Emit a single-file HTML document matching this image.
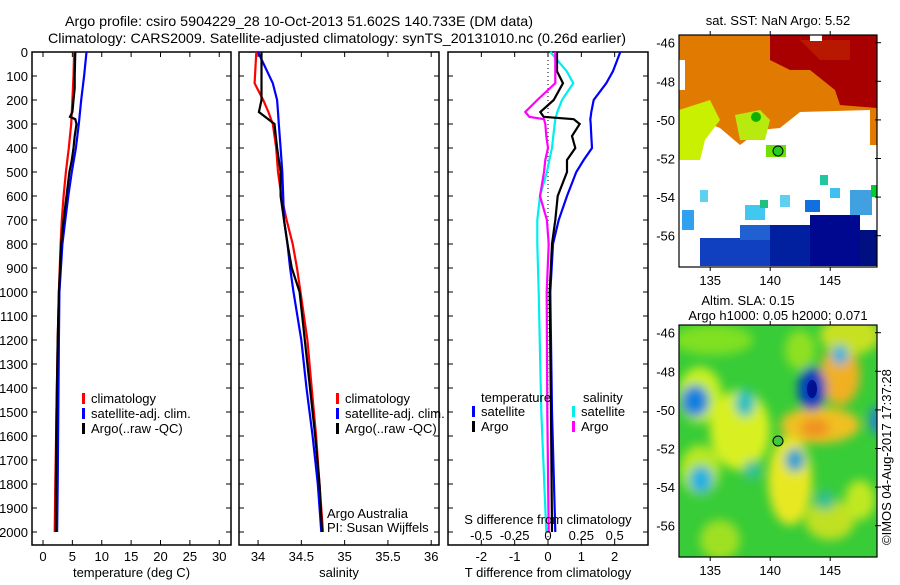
<!DOCTYPE html>
<html><head><meta charset="utf-8"><style>
body{margin:0;background:#fff;width:900px;height:580px;overflow:hidden}
svg{font-family:"Liberation Sans",sans-serif}
</style></head><body>
<svg id="c" width="900" height="580" xmlns="http://www.w3.org/2000/svg">
<text x="65" y="26" font-size="14" textLength="468" lengthAdjust="spacingAndGlyphs">Argo profile: csiro 5904229_28 10-Oct-2013 51.602S 140.733E (DM data)</text>
<text x="48" y="43" font-size="14" textLength="578" lengthAdjust="spacingAndGlyphs">Climatology: CARS2009. Satellite-adjusted climatology: synTS_20131010.nc (0.26d earlier)</text>
<g id="maps"></g>
<text transform="translate(891,545) rotate(-90)" font-size="13">©IMOS 04-Aug-2017 17:37:28</text>
</svg>
<script>
// ---- data ----
const depthTicks=[0,100,200,300,400,500,600,700,800,900,1000,1100,1200,1300,1400,1500,1600,1700,1800,1900,2000];
const tTicks=[0,5,10,15,20,25,30];
const sTicks=[34,34.5,35,35.5,36];
const dTTicks=[-2,-1,0,1,2];
const dSTicks=[-0.5,-0.25,0,0.25,0.5];
const tDepth=[0,100,200,300,400,500,600,700,800,1000,1200,1500,1800,2000];
const tClim=[5.3,5.2,5.0,4.8,4.4,3.9,3.5,3.2,3.0,2.7,2.5,2.3,2.1,2.0];
const tSat=[7.4,7.0,6.5,6.1,5.6,4.9,4.3,3.8,3.3,2.8,2.7,2.6,2.5,2.4];
const aDepth=[0,100,150,200,250,270,280,300,350,400,450,500,600,700,800,1000,1200,1500,1800,2000];
const tArgo=[5.5,5.4,5.4,5.2,5.0,4.6,5.5,5.7,5.4,5.2,4.9,4.5,4.0,3.5,3.1,2.7,2.5,2.3,2.2,2.2];
const sDepth=[0,130,200,250,300,400,500,600,700,800,900,1000,1200,1400,1600,1800,2000];
const sClim=[33.98,33.96,34.06,34.12,34.17,34.21,34.23,34.27,34.33,34.40,34.45,34.49,34.57,34.62,34.67,34.71,34.75];
const sSat=[34.0,34.17,34.22,34.23,34.24,34.26,34.28,34.29,34.30,34.34,34.37,34.41,34.50,34.56,34.63,34.69,34.73];
const sArgo=[34.04,34.04,34.04,34.01,34.19,34.22,34.26,34.26,34.30,34.34,34.39,34.48,34.54,34.60,34.66,34.71,34.74];
const dDepth=[0,80,130,200,250,270,280,300,350,400,450,500,600,700,800,1000,1500,2000];
const dTSat=[2.17,1.95,1.75,1.37,1.3,1.28,1.27,1.28,1.3,1.32,1.07,0.85,0.57,0.32,0.15,0.07,0.12,0.22];
const dTArgo=[0.27,0.27,0.45,0.17,-0.23,-0.13,0.77,0.95,0.72,0.82,0.57,0.57,0.29,0.22,0.12,0.05,0.09,0.12];
const dSSat=[0.018,0.14,0.19,0.105,0.07,0.06,0.055,0.05,0.04,0.03,0.01,-0.008,-0.06,-0.08,-0.08,-0.07,-0.05,-0.013];
const dSArgo=[0.055,0.055,0.055,-0.08,-0.17,-0.14,-0.03,-0.02,-0.013,0,-0.02,-0.03,-0.06,-0.008,0.005,-0.01,-0.005,0.005];

const NS='http://www.w3.org/2000/svg';
const svg=document.getElementById('c');
function el(t,a,p){const e=document.createElementNS(NS,t);for(const k in a)e.setAttribute(k,a[k]);(p||svg).appendChild(e);return e;}
const Y0=52,Y1=545;
const yD=d=>Y0+d*0.24;
function panel(name,x0,x1,dmin,dmax,ticks,label){
  const g=el('g',{});
  
  
  el('rect',{x:x0,y:Y0,width:x1-x0,height:Y1-Y0,fill:'none',stroke:'#000','stroke-width':1.5},g);
  const sx=v=>x0+(v-dmin)/(dmax-dmin)*(x1-x0);
  depthTicks.forEach(d=>{const y=yD(d);
    el('line',{x1:x0,x2:x0+5,y1:y,y2:y,stroke:'#000'},g);
    el('line',{x1:x1-5,x2:x1,y1:y,y2:y,stroke:'#000'},g);});
  if(ticks){ticks.forEach(v=>{const x=sx(v);
    el('line',{x1:x,x2:x,y1:Y0,y2:Y0+5,stroke:'#000'},g);
    el('line',{x1:x,x2:x,y1:Y1-5,y2:Y1,stroke:'#000'},g);
    const t=el('text',{x:x,y:561,'font-size':13,'text-anchor':'middle'},g);t.textContent=v;});
    const l=el('text',{x:(x0+x1)/2,y:577,'font-size':13,'text-anchor':'middle'},g);l.textContent=label;}
  return {g,sx};
}
function line(p,name,xs,ds,col,sx){
  const pts=xs.map((v,i)=>sx(v).toFixed(1)+','+yD(ds[i]).toFixed(1)).join(' ');
  const e=el('polyline',{points:pts,fill:'none',stroke:col,'stroke-width':2.2},p.g);
  
  
}
function legend(g,x,y,items){items.forEach((it,i)=>{
  el('rect',{x:x,y:y+i*15-10,width:3,height:11,fill:it[1]},g);
  const t=el('text',{x:x+9,y:y+i*15,'font-size':13},g);t.textContent=it[0];
  });}
depthTicks.forEach(d=>{const t=el('text',{x:28,y:yD(d)+5,'font-size':13,'text-anchor':'end'});t.textContent=d;
 });
const p1=panel('temperature-panel',32,231,-1.87,32,tTicks,'temperature (deg C)');
line(p1,'temp-climatology',tClim,tDepth,'#f00',p1.sx);
line(p1,'temp-satellite',tSat,tDepth,'#00f',p1.sx);
line(p1,'temp-argo',tArgo,aDepth,'#000',p1.sx);
legend(p1.g,82,403,[['climatology','#f00'],['satellite-adj. clim.','#00f'],['Argo(..raw -QC)','#000']]);
const p2=panel('salinity-panel',239,439,33.78,36.09,sTicks,'salinity');
line(p2,'sal-climatology',sClim,sDepth,'#f00',p2.sx);
line(p2,'sal-satellite',sSat,sDepth,'#00f',p2.sx);
line(p2,'sal-argo',sArgo,sDepth,'#000',p2.sx);
legend(p2.g,336,403,[['climatology','#f00'],['satellite-adj. clim.','#00f'],['Argo(..raw -QC)','#000']]);
let t=el('text',{x:327,y:518,'font-size':13},p2.g);t.textContent='Argo Australia';
t=el('text',{x:327,y:532,'font-size':13},p2.g);t.textContent='PI: Susan Wijffels';
const p3=panel('difference-panel',448,648,-3,3,dTTicks,'T difference from climatology');
const sxS=v=>p3.sx(v*4);
el('line',{x1:p3.sx(0),x2:p3.sx(0),y1:Y0,y2:Y1,stroke:'#000','stroke-dasharray':'1,3'},p3.g);
line(p3,'dT-satellite',dTSat,dDepth,'#00f',p3.sx);
line(p3,'dS-satellite',dSSat,dDepth,'#0ee',sxS);
line(p3,'dT-argo',dTArgo,dDepth,'#000',p3.sx);
line(p3,'dS-argo',dSArgo,dDepth,'#f0f',sxS);
dSTicks.forEach(v=>{const tt=el('text',{x:sxS(v),y:540,'font-size':13,'text-anchor':'middle'},p3.g);tt.textContent=v;});
t=el('text',{x:548,y:524,'font-size':13,'text-anchor':'middle'},p3.g);t.textContent='S difference from climatology';
t=el('text',{x:481,y:402,'font-size':13},p3.g);t.textContent='temperature';
t=el('text',{x:583,y:402,'font-size':13},p3.g);t.textContent='salinity';
legend(p3.g,472,416,[['satellite','#00f'],['Argo','#000']]);
legend(p3.g,572,416,[['satellite','#0ee'],['Argo','#f0f']]);

// ---- maps ----
const M=document.getElementById('maps');
function mapFrame(name){
  const g=el('g',{},M);
  return g;}
function axes(g,y0,y1){
  el('rect',{x:679,y:y0,width:198,height:y1-y0,fill:'none',stroke:'#000','stroke-width':1.2},g);
  [135,140,145].forEach(l=>{const x=679+(l-132.4)*12;
    el('line',{x1:x,x2:x,y1:y0-4,y2:y0,stroke:'#000'},g);el('line',{x1:x,x2:x,y1:y1,y2:y1+4,stroke:'#000'},g);
    const tt=el('text',{x:x,y:y1+18,'font-size':13,'text-anchor':'middle'},g);tt.textContent=l;});
  [-46,-48,-50,-52,-54,-56].forEach((la,i)=>{const y=y0+7.7+i*38.6;
    el('line',{x1:875,x2:881,y1:y,y2:y,stroke:'#000'},g);
    const tt=el('text',{x:675,y:y+5,'font-size':13,'text-anchor':'end'},g);tt.textContent=la;});
}
const g1=mapFrame('sst-map');
let tt=el('text',{x:778,y:25,'font-size':13,'text-anchor':'middle'},g1);tt.textContent='sat. SST: NaN Argo: 5.52';
el('polygon',{points:'679,35 877,35 877,145 870,145 870,110 800,112 780,128 760,130 740,145 720,128 700,120 685,110 679,110',fill:'#e07a00'},g1);
el('polygon',{points:'770,35 877,35 877,108 840,105 835,90 810,70 790,70 770,60',fill:'#a80000'},g1);
el('polygon',{points:'800,40 850,40 850,60 820,60',fill:'#b81800'},g1);
el('polygon',{points:'679,110 710,100 720,120 705,140 700,160 679,160',fill:'#c8f000'},g1);
el('polygon',{points:'735,115 760,110 770,120 765,140 740,140',fill:'#b8ea10'},g1);
el('circle',{cx:756,cy:117,r:5,fill:'#10b000'},g1);
el('rect',{x:766,y:145,width:20,height:12,fill:'#70e000'},g1);
el('rect',{x:810,y:35,width:12,height:6,fill:'#fff'},g1);
el('rect',{x:679,y:60,width:6,height:30,fill:'#fff'},g1);
[[682,210,12,20,'#30a0f0'],[700,190,8,12,'#60d0f0'],[745,205,20,15,'#40c8f0'],[760,200,8,8,'#20c080'],[780,195,10,12,'#60d0f0'],
 [805,200,15,12,'#1070e0'],[830,188,10,10,'#40c0f0'],[850,190,22,25,'#40a0e0'],[871,185,6,12,'#00cc30'],[820,175,8,10,'#20c8a0'],
 [700,238,70,28,'#1040c0'],[770,225,40,41,'#0020a0'],[810,215,50,51,'#000890'],[860,230,17,36,'#001080'],[740,225,30,15,'#2060d0']]
 .forEach(r=>el('rect',{x:r[0],y:r[1],width:r[2],height:r[3],fill:r[4]},g1));
el('circle',{cx:778,cy:151,r:5,fill:'#20d020',stroke:'#000'},g1);
axes(g1,35,267);
const g2=mapFrame('sla-map');
tt=el('text',{x:748,y:305,'font-size':13,'text-anchor':'middle'},g2);tt.textContent='Altim. SLA: 0.15';
tt=el('text',{x:778,y:320,'font-size':13,'text-anchor':'middle'},g2);tt.textContent='Argo h1000: 0.05 h2000: 0.071';
const defs=el('defs',{},g2);const f=el('filter',{id:'bl',x:'-50%',y:'-50%',width:'200%',height:'200%'},defs);
el('feGaussianBlur',{stdDeviation:5},f);
el('clipPath',{id:'cp'},defs);el('rect',{x:679,y:325,width:198,height:232},document.getElementById('cp'));
const bg=el('g',{'clip-path':'url(#cp)'},g2);
el('rect',{x:679,y:325,width:198,height:232,fill:'#38cc38'},bg);
const bl=el('g',{filter:'url(#bl)'},bg);
[[700,395,22,28,'#c8f020'],[740,430,30,40,'#d8f020'],[790,480,22,45,'#e8e820'],[820,425,40,18,'#f0c020'],[840,375,20,30,'#f0b020'],
 [850,335,30,20,'#c8e020'],[700,470,20,25,'#b8e820'],[720,540,20,20,'#a0e020'],[830,520,25,20,'#c0e020'],[860,500,15,20,'#c0e820'],
 [713,340,40,15,'#80e020'],[800,350,15,20,'#90e020']].forEach(e=>el('ellipse',{cx:e[0],cy:e[1],rx:e[2],ry:e[3],fill:e[4]},bl));
[[695,401,14,16,'#1080e0'],[812,389,14,22,'#0040c0'],[701,480,12,14,'#20b0e0'],[795,460,10,12,'#20a0d0'],[840,355,8,10,'#20b0e0'],
 [876,420,6,14,'#2080e0'],[745,403,10,14,'#20c0c0'],[752,470,8,10,'#30c0a0'],[825,500,10,10,'#30c090']].forEach(e=>el('ellipse',{cx:e[0],cy:e[1],rx:e[2],ry:e[3],fill:e[4]},bl));
el('ellipse',{cx:812,cy:389,rx:5,ry:9,fill:'#001090'},bg);
el('ellipse',{cx:815,cy:428,rx:14,ry:9,fill:'#f09020',filter:'url(#bl)'},bg);
el('circle',{cx:778,cy:441,r:5,fill:'#40c840',stroke:'#000'},g2);
axes(g2,325,557);
</script>
</body></html>
